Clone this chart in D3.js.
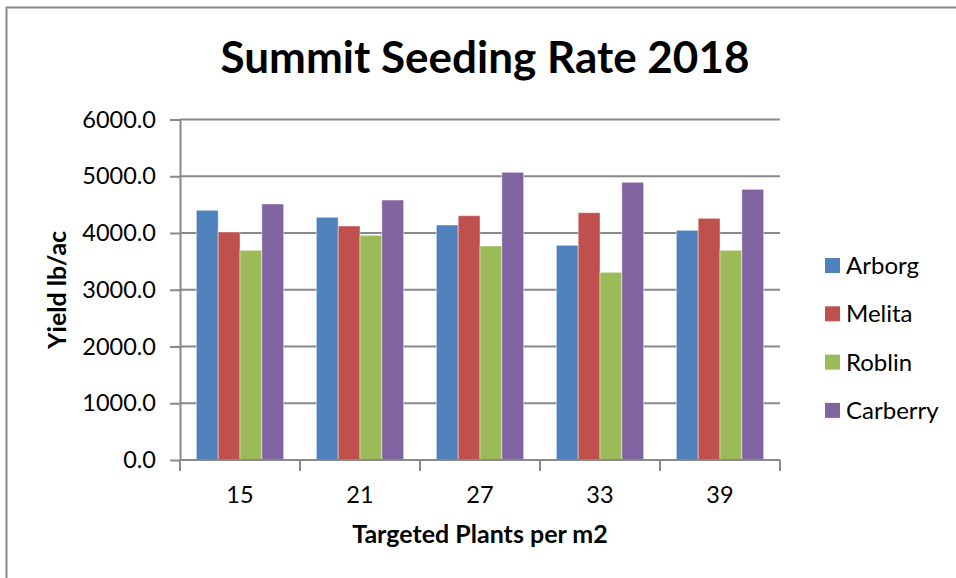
<!DOCTYPE html>
<html>
<head>
<meta charset="utf-8">
<script src="https://cdn.jsdelivr.net/npm/d3@7"></script>
<style>
  body { margin: 0; background: #fff; }
  svg text { font-family: Lato, "Open Sans", sans-serif; fill: #000; }
</style>
</head>
<body>
<div id="chart"></div>
<script>
// Summit seeding rate 2018, yield by site
const categories = ["15", "21", "27", "33", "39"];
const sites = ["Arborg", "Melita", "Roblin", "Carberry"];
const arborg = [4400, 4277, 4141, 3783, 4047];
const melita = [4018, 4123, 4305, 4358, 4259];
const roblin = [3695, 3959, 3771, 3307, 3695];
const carberry = [4511, 4581, 5069, 4893, 4769];
const yTicks = [0, 1000, 2000, 3000, 4000, 5000, 6000];
const colors = ["#4F81BD", "#C0504D", "#9BBB59", "#8064A2"];

const seriesValues = [arborg, melita, roblin, carberry];
const rows = categories.map((c, i) => ({
  cat: c,
  vals: sites.map((s, j) => ({ site: s, value: seriesValues[j][i] }))
}));

const W = 956, H = 578;
const margin = { top: 119.5, right: 176, bottom: 118, left: 180 };
const width = W - margin.left - margin.right;
const height = H - margin.top - margin.bottom;
const grey = "#898989";

const svg = d3.select("#chart").append("svg")
  .attr("width", W).attr("height", H);

// chart frame
svg.append("rect")
  .attr("x", 6.5).attr("y", 7.5)
  .attr("width", W + 10).attr("height", H + 10)
  .attr("fill", "none").attr("stroke", grey).attr("stroke-width", 2);

svg.append("text")
  .attr("x", 485).attr("y", 73)
  .attr("text-anchor", "middle")
  .style("font-size", "44px").style("font-weight", "bold")
  .text("Summit Seeding Rate 2018");

const g = svg.append("g")
  .attr("transform", "translate(" + margin.left + "," + margin.top + ")");

const x = d3.scaleBand().domain(categories).range([0, width]);
const xInner = d3.scaleBand().domain(sites)
  .range([0, x.bandwidth()]).paddingInner(0).paddingOuter(0.75);
const y = d3.scaleLinear().domain([0, 6000]).range([height, 0]);

// gridlines
g.append("g")
  .selectAll("line").data(yTicks.filter(d => d > 0)).join("line")
  .attr("x1", 0).attr("x2", width)
  .attr("y1", d => y(d)).attr("y2", d => y(d))
  .attr("stroke", grey).attr("stroke-width", 2);

// bars
g.append("g")
  .selectAll("g").data(rows).join("g")
  .attr("transform", d => "translate(" + x(d.cat) + ",0)")
  .selectAll("rect").data(d => d.vals).join("rect")
  .attr("x", d => xInner(d.site))
  .attr("y", d => y(d.value))
  .attr("width", xInner.bandwidth())
  .attr("height", d => height - y(d.value))
  .attr("fill", (d, i) => colors[i])
  .attr("stroke", "rgba(255,255,255,0.45)")
  .attr("stroke-width", 1);

// y axis
const yAxis = g.append("g")
  .call(d3.axisLeft(y).tickValues(yTicks).tickFormat(d3.format(".1f"))
    .tickSize(10).tickSizeOuter(0).tickPadding(14));
yAxis.select(".domain").attr("stroke", grey).attr("stroke-width", 2);
yAxis.selectAll(".tick line").attr("stroke", grey).attr("stroke-width", 2);
yAxis.selectAll(".tick text")
  .style("font-size", "23.5px").style("font-family", "Lato, sans-serif")
  .attr("fill", "#000");

// x axis, ticks at category boundaries
const xAxisG = g.append("g").attr("transform", "translate(0," + height + ")");
xAxisG.append("line")
  .attr("x1", 0).attr("x2", width)
  .attr("stroke", grey).attr("stroke-width", 2);
const bounds = categories.map(c => x(c)).concat([width]);
xAxisG.selectAll(".bt").data(bounds).join("line")
  .attr("class", "bt")
  .attr("x1", d => d).attr("x2", d => d)
  .attr("y1", 0).attr("y2", 11)
  .attr("stroke", grey).attr("stroke-width", 2);
xAxisG.selectAll(".cl").data(categories).join("text")
  .attr("class", "cl")
  .attr("x", d => x(d) + x.bandwidth() / 2)
  .attr("y", 43)
  .attr("text-anchor", "middle")
  .style("font-size", "23.5px")
  .text(d => d);

// axis titles
svg.append("text")
  .attr("x", margin.left + width / 2).attr("y", 543)
  .attr("text-anchor", "middle")
  .style("font-size", "25px").style("font-weight", "bold")
  .text("Targeted Plants per m2");

svg.append("text")
  .attr("transform", "translate(66," + (margin.top + height / 2) + ") rotate(-90)")
  .attr("text-anchor", "middle")
  .style("font-size", "25px").style("font-weight", "bold")
  .text("Yield lb/ac");

// legend
const legend = svg.append("g").attr("transform", "translate(825,258)");
const li = legend.selectAll("g").data(sites).join("g")
  .attr("transform", (d, i) => "translate(0," + (i * 48.3) + ")");
li.append("rect")
  .attr("width", 15).attr("height", 15)
  .attr("fill", (d, i) => colors[i]);
li.append("text")
  .attr("x", 21).attr("y", 16)
  .style("font-size", "24px")
  .text(d => d);
</script>
</body>
</html>
